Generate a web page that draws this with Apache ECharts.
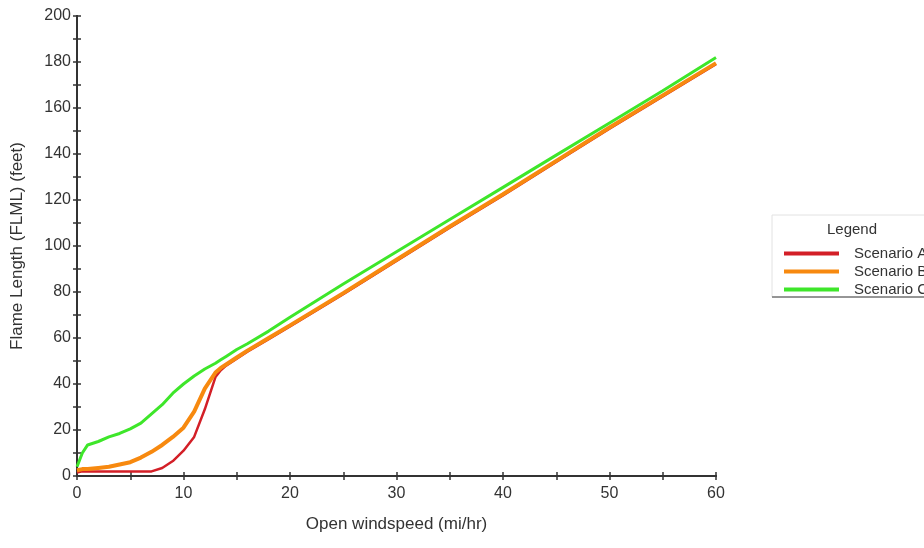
<!DOCTYPE html>
<html>
<head>
<meta charset="utf-8">
<script src="https://cdn.jsdelivr.net/npm/echarts@6/dist/echarts.min.js"></script>
<style>
html, body { margin: 0; padding: 0; background: #fff; }
#chart { width: 924px; height: 548px; }
</style>
</head>
<body>
<div id="chart"></div>
<script>
// open windspeed (mi/hr)
const windspeed = [0, 0.5, 1, 2, 3, 4, 5, 6, 7, 8, 9, 10, 11, 12, 13, 13.5, 14, 15, 16, 18, 20, 25, 30, 35, 40, 45, 50, 55, 60];
// flame length (feet)
const scenarioA = [1.5, 2, 2, 2, 2, 2, 2, 2, 2, 3.5, 6.5, 11, 17, 29, 43, 46, 48, 51, 54, 59.5, 65, 79, 93.5, 108, 122, 136.5, 151, 165, 179];
const scenarioB = [2.5, 3, 3, 3.5, 4, 5, 6, 8, 10.5, 13.5, 17, 21, 28, 38, 45, 47, 48.5, 51.5, 54.5, 60, 65.5, 79.5, 94, 108.5, 122.5, 137, 151.5, 165.5, 179.5];
const scenarioC = [4, 10, 13.5, 15, 17, 18.5, 20.5, 23, 27, 31, 36, 40, 43.5, 46.5, 49, 50.5, 52, 55, 57.5, 63, 69, 83.5, 97.5, 111.5, 125.5, 139.5, 153.5, 167.5, 182];
const seriesNames = ['Scenario A', 'Scenario B', 'Scenario C'];
const seriesColors = ['#d31f27', '#f7890f', '#3ee62a'];

const font = 'Liberation Sans, Arial, sans-serif';
const pairs = ys => windspeed.map((x, i) => [x, ys[i]]);
const tickStyle = { color: '#333', width: 1.5 };
const axisLineStyle = { color: '#333', width: 2 };
const W = 924, H = 548;
const gridBox = { left: 77, right: 208, top: 16, bottom: 72 };
const plotW = W - gridBox.left - gridBox.right;
const plotH = H - gridBox.top - gridBox.bottom;

let chart = echarts.init(document.getElementById('chart'));

const opt = {
	animation: false,
	grid: gridBox,
	graphic: [
		{
			type: 'rect',
			shape: { x: 772, y: 215, width: 160, height: 82 },
			style: { fill: '#fff', stroke: '#e2e2e2', lineWidth: 1 },
			z: 0
		},
		{
			type: 'line',
			shape: { x1: 772, y1: 297, x2: 924, y2: 297 },
			style: { stroke: '#777', lineWidth: 1.5 },
			z: 1
		},
		{
			type: 'text',
			x: 852,
			y: 230,
			style: { text: 'Legend', fill: '#333', font: '15px ' + font, align: 'center', verticalAlign: 'middle' },
			z: 2
		}
	],
	legend: {
		orient: 'vertical',
		left: 779,
		top: 241,
		icon: 'rect',
		itemWidth: 55,
		itemHeight: 4,
		itemGap: 3,
		data: seriesNames,
		textStyle: { fontFamily: font, fontSize: 15, color: '#333', lineHeight: 15, padding: [0, 0, 0, 10] },
		z: 3
	},
	xAxis: [
		{
			type: 'value',
			position: 'bottom',
			min: 0,
			max: 60,
			interval: 5,
			name: 'Open windspeed (mi/hr)',
			nameLocation: 'middle',
			nameGap: 40,
			nameTextStyle: { fontFamily: font, fontSize: 17, color: '#333' },
			axisLine: { show: true, onZero: false, lineStyle: axisLineStyle },
			axisTick: { show: true, inside: true, length: 4, lineStyle: tickStyle },
			axisLabel: {
				margin: 10,
				fontFamily: font,
				fontSize: 16,
				color: '#333',
				formatter: v => (v % 10 === 0 ? String(v) : '')
			},
			splitLine: { show: false }
		},
		{
			// top axis moved down onto the bottom one: lower half of the crossing ticks
			type: 'value',
			position: 'top',
			offset: -plotH,
			min: 0,
			max: 60,
			interval: 5,
			axisLine: { show: true, onZero: false, lineStyle: axisLineStyle },
			axisTick: { show: true, inside: true, length: 4, lineStyle: tickStyle },
			axisLabel: { show: false },
			splitLine: { show: false }
		}
	],
	yAxis: [
		{
			type: 'value',
			position: 'left',
			min: 0,
			max: 200,
			interval: 10,
			name: 'Flame Length (FLML) (feet)',
			nameLocation: 'middle',
			nameGap: 51,
			nameTextStyle: { fontFamily: font, fontSize: 17, color: '#333' },
			axisLine: { show: true, onZero: false, lineStyle: axisLineStyle },
			axisTick: { show: true, inside: true, length: 4, lineStyle: tickStyle },
			axisLabel: {
				margin: 6,
				fontFamily: font,
				fontSize: 16,
				color: '#333',
				formatter: v => (v % 20 === 0 ? String(v) : '')
			},
			splitLine: { show: false }
		},
		{
			// right axis moved left onto the left one: outer half of the crossing ticks
			type: 'value',
			position: 'right',
			offset: -plotW,
			min: 0,
			max: 200,
			interval: 10,
			axisLine: { show: true, onZero: false, lineStyle: axisLineStyle },
			axisTick: { show: true, inside: true, length: 4, lineStyle: tickStyle },
			axisLabel: { show: false },
			splitLine: { show: false }
		}
	],
	series: [
		{
			name: seriesNames[0],
			type: 'line',
			data: pairs(scenarioA),
			showSymbol: false,
			color: seriesColors[0],
			lineStyle: { width: 2.5 }
		},
		{
			name: seriesNames[1],
			type: 'line',
			data: pairs(scenarioB),
			showSymbol: false,
			color: seriesColors[1],
			lineStyle: { width: 4 }
		},
		{
			name: seriesNames[2],
			type: 'line',
			data: pairs(scenarioC),
			showSymbol: false,
			color: seriesColors[2],
			lineStyle: { width: 3 }
		}
	]
};

chart.setOption(opt);
</script>
</body>
</html>
